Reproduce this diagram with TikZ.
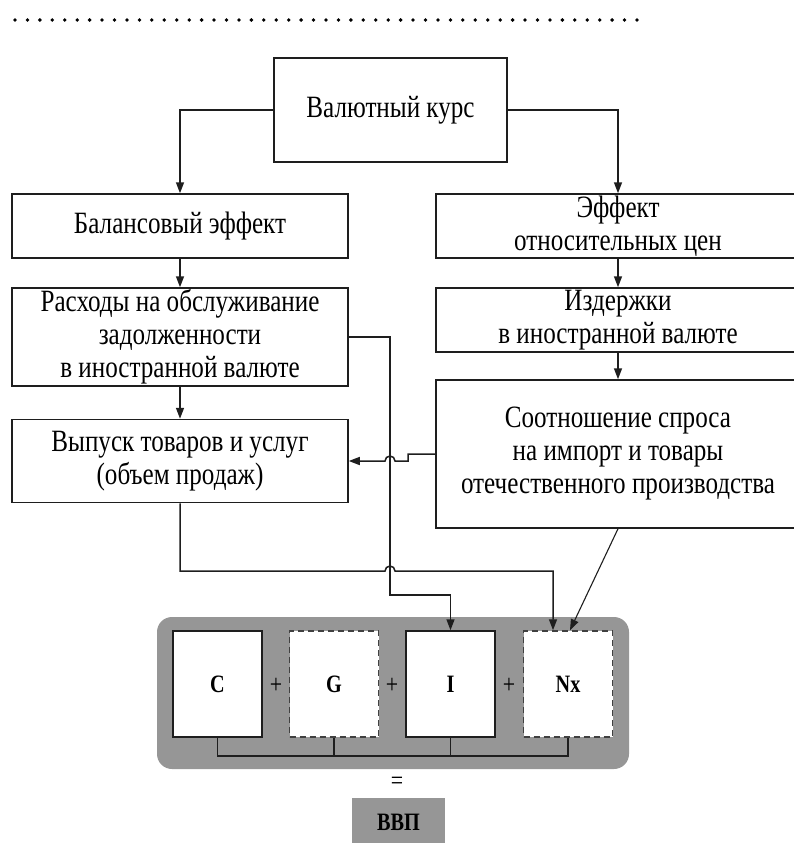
\documentclass[tikz,border=0pt]{standalone}
\usepackage{fontspec}
\setmainfont[FakeStretch=0.81]{Liberation Serif}
\usepackage{xcolor}
\usepackage{tikz}
\usetikzlibrary{arrows.meta, positioning}
\definecolor{panelgray}{RGB}{150,150,150}
\definecolor{linegray}{RGB}{30,30,30}
\tikzset{
  stage/.style={draw=linegray, line width=1.5pt, fill=white, align=center, inner sep=0pt,
    font=\fontsize{31}{33}\selectfont},
  part/.style={draw=linegray, line width=1.5pt, fill=white, inner sep=0pt,
    minimum width=89pt, minimum height=106pt, font=\fontsize{25}{27}\selectfont\bfseries},
  partdash/.style={part, dash pattern=on 6pt off 4pt, draw=black!75},
  sign/.style={inner sep=0pt, font=\fontsize{27}{29}\selectfont}
}

\begin{document}
\begin{tikzpicture}[x=1pt, y=-1pt, >={Triangle[length=11pt,width=8pt]}, line width=1.5pt, draw=linegray]
\useasboundingbox (0,0) rectangle (793,843);
% dotted rule
\foreach \i in {0,...,50} \fill ({15+12.44*\i},20) circle (1.9pt);
\node[stage, minimum width=233pt, minimum height=104pt] (kurs) at (390.5,110) {Валютный курс};
\node[stage, minimum width=336pt, minimum height=64pt] (bal) at (180,226) {Балансовый эффект};
\node[stage, minimum width=336pt, minimum height=98pt] (rash) at (180,337) {Расходы на обслуживание\\задолженности\\в иностранной валюте};
\node[stage, minimum width=336pt, minimum height=83pt] (vyp) at (180,461) {Выпуск товаров и услуг\\(объем продаж)};
\node[stage, minimum width=364pt, minimum height=64pt] (eff) at (618,226) {Эффект\\относительных цен};
\node[stage, minimum width=364pt, minimum height=64pt] (izd) at (618,320) {Издержки\\в иностранной валюте};
\node[stage, minimum width=364pt, minimum height=148pt] (soot) at (618,454) {Соотношение спроса\\на импорт и товары\\отечественного производства};
% GDP panel
\fill[panelgray, rounded corners=15pt] (157,617) rectangle (629,769);
\node[part] (C) at (217.5,684) {C};
\node[partdash] (G) at (334,684) {G};
\node[part] (I) at (450.5,684) {I};
\node[partdash] (Nx) at (568,684) {Nx};
\node[sign] (p1) at (276,686) {+};
\node[sign] (p2) at (392,686) {+};
\node[sign] (p3) at (509,686) {+};
\node[sign] (eq) at (397,783) {=};
\node[fill=panelgray, minimum width=93pt, minimum height=48pt, inner sep=0pt,
  font=\fontsize{25}{27}\selectfont\bfseries] (vvp) at (398.5,822) {ВВП};
\draw (C.south) -- ++(0,18) -| (Nx.south);
\draw (G.south) -- ++(0,18);
\draw (I.south) -- ++(0,18);
% connectors
\draw[->] (kurs.west) -| (bal.north);
\draw[->] (kurs.east) -| (eff.north);
\draw[->] (bal) -- (rash);
\draw[->] (rash) -- (vyp);
\draw[->] (eff) -- (izd);
\draw[->] (izd) -- (soot);
\coordinate (bus) at (390,595);
\draw[->] (rash.east) -| (bus) -| (I.north);
\coordinate (stp) at (408,454);
\draw[->] (soot.west) -- (stp) -- (408,461) -- (395,461) arc[start angle=0, end angle=180, radius=5pt] -- (vyp.east);
\coordinate (nxin) at ([xshift=-15pt]Nx.north);
\draw[->] (vyp.south) -- (180,571) -- (385,571) arc[start angle=180, end angle=0, radius=5pt] -| (nxin);
\draw[->, line width=1.1pt] (soot.south) -- ([xshift=2pt]Nx.north);
\end{tikzpicture}
\end{document}
